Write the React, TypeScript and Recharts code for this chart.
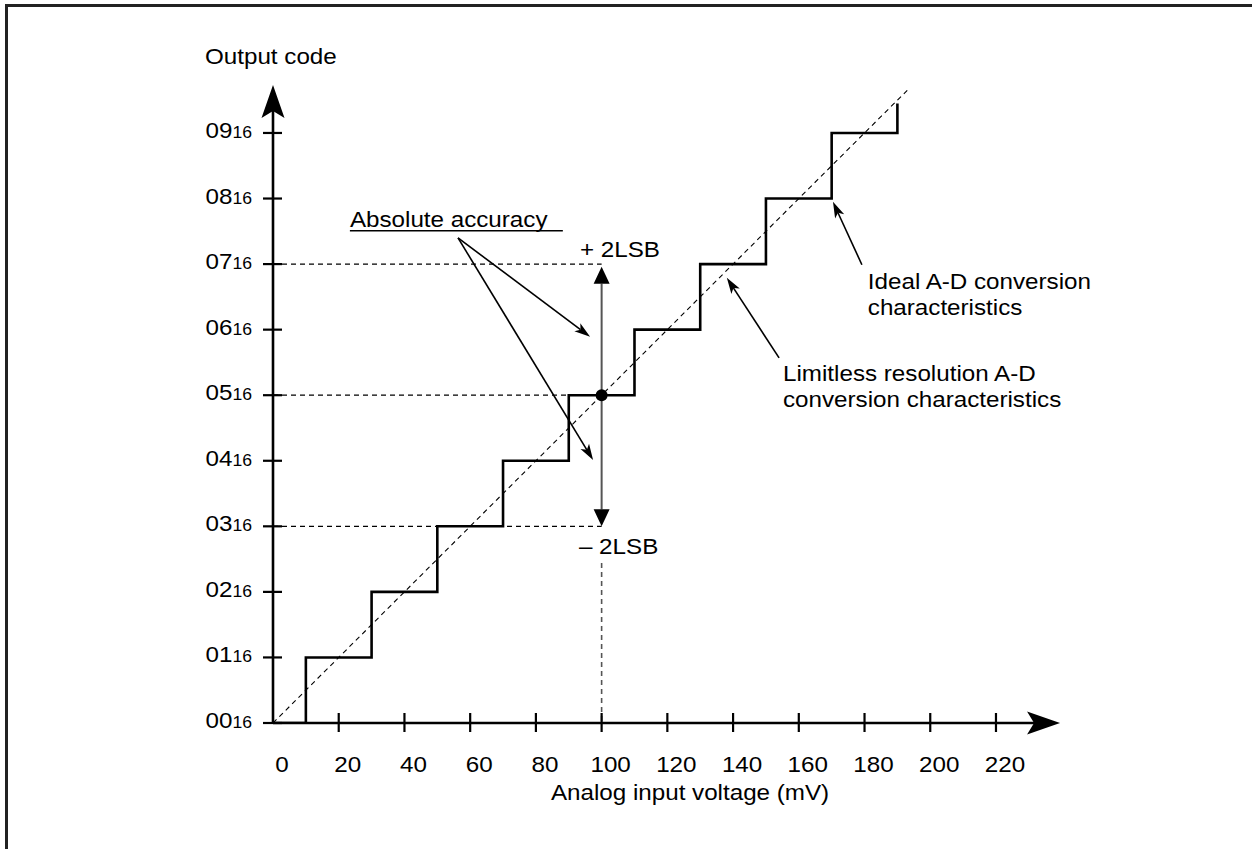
import React from 'react';
import { LineChart, Line, XAxis, YAxis, ReferenceLine, ReferenceDot } from 'recharts';

// ---------- data ----------
const stepVoltages = [0, 10, 30, 50, 70, 90, 110, 130, 150, 170, 190];
const stepCodes = [0, 1, 2, 3, 4, 5, 6, 7, 8, 9, 9.45];
const idealVoltages = [0, 193];
const idealCodes = [0, 9.65];
const xTicks = [0, 20, 40, 60, 80, 100, 120, 140, 160, 180, 200, 220];
const yTicks = [0, 1, 2, 3, 4, 5, 6, 7, 8, 9];
const yTickLabels = ['00', '01', '02', '03', '04', '05', '06', '07', '08', '09'];
const yTickSuffix = '16';
const sampleVoltage = 100;
const sampleCode = 5;
const accuracyLsb = 2;

const xTitle = 'Analog input voltage (mV)';
const yTitle = 'Output code';
const accuracyText = 'Absolute accuracy';
const plusText = '+ 2LSB';
const minusText = '\u2013 2LSB';
const idealText = ['Ideal A-D conversion', 'characteristics'];
const limitlessText = ['Limitless resolution A-D', 'conversion characteristics'];

const stepData = stepVoltages.map((v, i) => ({ v, code: stepCodes[i] }));
const idealData = idealVoltages.map((v, i) => ({ v, code: idealCodes[i] }));

// ---------- styles ----------
const FONT = '"Liberation Sans", Arial, Helvetica, sans-serif';
const SX = 1.1;
const FS = 22;

function STxt({ x, y, anchor = 'start', size = FS, children }: any) {
  return (
    <text
      transform={`translate(${x},${y}) scale(${SX},1)`}
      x={0}
      y={0}
      textAnchor={anchor}
      fontSize={size}
      fontFamily={FONT}
      fill="#000"
    >
      {children}
    </text>
  );
}

function arrowShape(o: { head: number; half: number; notch: number; width: number; color?: string; headColor?: string; both?: boolean }) {
  return (p: any) => {
    const { x1, y1, x2, y2 } = p;
    const dx = x2 - x1;
    const dy = y2 - y1;
    const len = Math.hypot(dx, dy) || 1;
    const ux = dx / len;
    const uy = dy / len;
    const nx = -uy;
    const ny = ux;
    const mk = (tx: number, ty: number, s: number) => {
      const bx = tx - s * ux * o.head;
      const by = ty - s * uy * o.head;
      const mx = tx - s * ux * (o.head - o.notch);
      const my = ty - s * uy * (o.head - o.notch);
      return `${tx},${ty} ${bx + nx * o.half},${by + ny * o.half} ${mx},${my} ${bx - nx * o.half},${by - ny * o.half}`;
    };
    const inset = o.head - o.notch;
    const lx2 = x2 - ux * inset;
    const ly2 = y2 - uy * inset;
    const lx1 = o.both ? x1 + ux * inset : x1;
    const ly1 = o.both ? y1 + uy * inset : y1;
    const hc = o.headColor || '#000';
    return (
      <g>
        <line x1={lx1} y1={ly1} x2={lx2} y2={ly2} stroke={o.color || '#000'} strokeWidth={o.width} />
        <polygon points={mk(x2, y2, 1)} fill={hc} stroke="none" />
        {o.both && <polygon points={mk(x1, y1, -1)} fill={hc} stroke="none" />}
      </g>
    );
  };
}

const axisArrow = arrowShape({ head: 33, half: 11.5, notch: 7, width: 2.6 });
const noteArrow = arrowShape({ head: 16, half: 5, notch: 4, width: 1.6 });
const doubleArrow = arrowShape({ head: 17, half: 8, notch: 0, width: 2, color: '#555', both: true });

const XTick = (props: any) => {
  const { x, y, payload } = props;
  return (
    <g>
      {payload.value !== 0 && <line x1={x} x2={x} y1={y - 10} y2={y + 9} stroke="#000" strokeWidth={2.2} />}
      <STxt x={x + 9} y={y + 49} anchor="middle">{String(payload.value)}</STxt>
    </g>
  );
};

const YTick = (props: any) => {
  const { x, y, payload } = props;
  const i = yTicks.indexOf(payload.value);
  return (
    <g>
      <line x1={x - 10} x2={x + 9} y1={y} y2={y} stroke="#000" strokeWidth={2.2} />
      <text
        transform={`translate(${x - 21},${y + 5}) scale(${SX},1)`}
        textAnchor="end"
        fontFamily={FONT}
        fontSize={FS}
        fill="#000"
      >
        <tspan>{yTickLabels[i]}</tspan>
        <tspan fontSize={16}>{yTickSuffix}</tspan>
      </text>
    </g>
  );
};

const textDot = (content: (cx: number, cy: number) => React.ReactElement) => (p: any) => content(p.cx, p.cy);

export default function App() {
  return (
    <div style={{ position: 'absolute', left: 0, top: 0, width: 1252, height: 849, overflow: 'hidden', background: '#fff' }}>
      <div
        style={{
          position: 'absolute',
          left: 5,
          top: 4,
          width: 1400,
          height: 1000,
          border: '3px solid #222',
          boxSizing: 'border-box',
        }}
      />
      <div style={{ position: 'absolute', left: 0, top: 0 }}>
        <LineChart width={1252} height={849} margin={{ top: 83.8, right: 190.3, bottom: 66, left: 0 }}>
          <XAxis
            type="number"
            dataKey="v"
            domain={[0, 240]}
            allowDataOverflow
            ticks={xTicks}
            interval={0}
            axisLine={false}
            tickLine={false}
            tickSize={0}
            tickMargin={0}
            height={60}
            tick={XTick}
          />
          <YAxis
            type="number"
            domain={[0, 9.75]}
            allowDataOverflow
            ticks={yTicks}
            interval={0}
            axisLine={false}
            tickLine={false}
            tickSize={0}
            tickMargin={0}
            width={273}
            tick={YTick}
          />

          {/* guide lines */}
          <ReferenceLine ifOverflow="visible" segment={[{ x: 0, y: sampleCode + accuracyLsb }, { x: sampleVoltage, y: sampleCode + accuracyLsb }]} stroke="#000" strokeWidth={1.2} strokeDasharray="5 4" />
          <ReferenceLine ifOverflow="visible" segment={[{ x: 0, y: sampleCode }, { x: sampleVoltage, y: sampleCode }]} stroke="#000" strokeWidth={1.2} strokeDasharray="5 4" />
          <ReferenceLine ifOverflow="visible" segment={[{ x: 0, y: sampleCode - accuracyLsb }, { x: sampleVoltage, y: sampleCode - accuracyLsb }]} stroke="#000" strokeWidth={1.2} strokeDasharray="5 4" />
          <ReferenceLine ifOverflow="visible" segment={[{ x: sampleVoltage, y: 2.44 }, { x: sampleVoltage, y: 0 }]} stroke="#555" strokeWidth={1.6} strokeDasharray="5 4" />

          <Line data={idealData} dataKey="code" type="linear" stroke="#000" strokeWidth={1.1} strokeDasharray="5 4" dot={false} isAnimationActive={false} />
          <Line data={stepData} dataKey="code" type="stepAfter" stroke="#000" strokeWidth={2.6} dot={false} isAnimationActive={false} />

          {/* axes with arrows */}
          <ReferenceLine ifOverflow="visible" segment={[{ x: 0, y: 0 }, { x: 239.5, y: 0 }]} shape={axisArrow} />
          <ReferenceLine ifOverflow="visible" segment={[{ x: 0, y: 0 }, { x: 0, y: 9.73 }]} shape={axisArrow} />

          {/* absolute accuracy double arrow and dot */}
          <ReferenceLine ifOverflow="visible" segment={[{ x: sampleVoltage, y: sampleCode - accuracyLsb }, { x: sampleVoltage, y: sampleCode + accuracyLsb - 0.04 }]} shape={doubleArrow} />
          <ReferenceDot ifOverflow="visible" x={sampleVoltage} y={sampleCode} r={6} fill="#000" stroke="none" />

          {/* annotation arrows */}
          <ReferenceLine ifOverflow="visible" segment={[{ x: 56.3, y: 7.4 }, { x: 96.5, y: 5.89 }]} shape={noteArrow} />
          <ReferenceLine ifOverflow="visible" segment={[{ x: 56.3, y: 7.4 }, { x: 97.4, y: 4.01 }]} shape={noteArrow} />
          <ReferenceLine ifOverflow="visible" segment={[{ x: 179.2, y: 6.99 }, { x: 170.4, y: 7.95 }]} shape={noteArrow} />
          <ReferenceLine ifOverflow="visible" segment={[{ x: 154.0, y: 5.57 }, { x: 138.1, y: 6.79 }]} shape={noteArrow} />
          <ReferenceLine ifOverflow="visible" segment={[{ x: 23.4, y: 7.51 }, { x: 88.2, y: 7.51 }]} stroke="#000" strokeWidth={1.5} />

          {/* texts */}
          <ReferenceDot ifOverflow="visible" x={-20.7} y={10.05} r={1} shape={textDot((cx, cy) => <STxt x={cx} y={cy}>{yTitle}</STxt>)} />
          <ReferenceDot ifOverflow="visible" x={126.9} y={-1.17} r={1} shape={textDot((cx, cy) => <STxt x={cx} y={cy} anchor="middle">{xTitle}</STxt>)} />
          <ReferenceDot ifOverflow="visible" x={23.4} y={7.57} r={1} shape={textDot((cx, cy) => <STxt x={cx} y={cy}>{accuracyText}</STxt>)} />
          <ReferenceDot ifOverflow="visible" x={93.4} y={7.11} r={1} shape={textDot((cx, cy) => <STxt x={cx} y={cy}>{plusText}</STxt>)} />
          <ReferenceDot ifOverflow="visible" x={93.1} y={2.58} r={1} shape={textDot((cx, cy) => <STxt x={cx} y={cy}>{minusText}</STxt>)} />
          <ReferenceDot
            ifOverflow="visible"
            x={181.0}
            y={6.62}
            r={1}
            shape={textDot((cx, cy) => (
              <STxt x={cx} y={cy}>
                <tspan x={0}>{idealText[0]}</tspan>
                <tspan x={0} dy={26}>{idealText[1]}</tspan>
              </STxt>
            ))}
          />
          <ReferenceDot
            ifOverflow="visible"
            x={155.2}
            y={5.22}
            r={1}
            shape={textDot((cx, cy) => (
              <STxt x={cx} y={cy}>
                <tspan x={0}>{limitlessText[0]}</tspan>
                <tspan x={0} dy={26}>{limitlessText[1]}</tspan>
              </STxt>
            ))}
          />
        </LineChart>
      </div>
    </div>
  );
}
